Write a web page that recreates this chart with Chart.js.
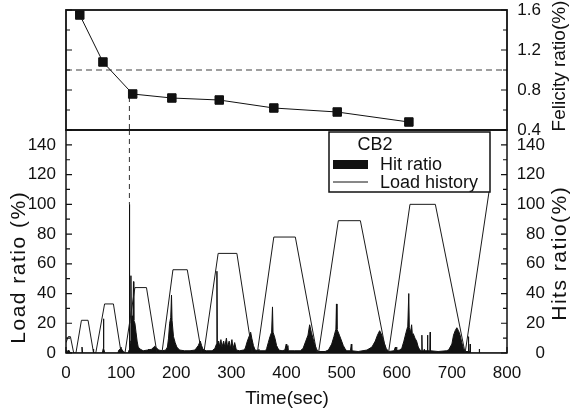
<!DOCTYPE html>
<html>
<head>
<meta charset="utf-8">
<title>CB2 load history and hit ratio</title>
<script src="https://cdn.jsdelivr.net/npm/chart.js@4.4.1/dist/chart.umd.min.js"></script>
<style>
    html, body { margin: 0; padding: 0; background: #fff; }
    #wrap { position: relative; width: 572px; height: 415px; }
    #wrap canvas { position: absolute; left: 0; top: 0; }
</style>
</head>
<body>
<div id="wrap">
    <canvas id="felicityChart" width="572" height="415"></canvas>
    <canvas id="loadChart" width="572" height="415"></canvas>
</div>
<script>
/**
 * Felicity ratio (top panel) and load history / hit ratio of CB2 (bottom panel)
 */

// Felicity ratio measured at each load step
const felicityTime  = [25, 67, 121, 192, 278, 377, 492, 622];
const felicityRatio = [1.55, 1.08, 0.76, 0.72, 0.70, 0.62, 0.58, 0.48];
const felicityLimit = 1.0;

// Moment the felicity ratio first falls under the limit
const splitTime = 115;

// Offered load (%): ramps and plateaus
const loadTime  = [0, 4, 8, 14, 18, 28, 40, 50, 54, 70, 86, 100, 107, 125, 146, 165,
                   174, 194, 220, 246, 250, 276, 310, 338, 347, 377, 416, 455,
                   458, 494, 534, 581, 585, 624, 670, 724, 768];
const loadRatio = [7, 11, 11, 0, 0, 22, 22, 0, 0, 33, 33, 0, 0, 44, 44, 0,
                   0, 56, 56, 0, 0, 67, 67, 0, 0, 78, 78, 0,
                   0, 89, 89, 0, 0, 100, 100, 0, 110];

// Hit ratio (%) samples, burst by burst
const hitTime = [
    0, 1, 3, 5, 7, 12, 28, 29, 30, 32, 66, 67.5, 68, 68.6, 70, 72, 94, 96, 100, 104, 108,
    113, 114.4, 115, 115.6, 117, 117.8, 118.4, 120, 121.2, 122.4, 123, 125, 127, 129, 131, 135, 140,
    148, 155, 158, 161, 164, 168, 175,
    181, 184, 186, 188, 190, 191.4, 192.4, 195, 198, 201, 206, 215, 225,
    234, 240, 243.5, 246, 249, 255, 265,
    270, 273, 273.8, 274.6, 277, 279, 281, 283, 286, 288, 291, 293, 296, 298, 301, 303, 306, 309, 315,
    322, 325, 329, 333, 335, 337, 340, 343, 350,
    362, 364, 367, 370, 373, 374.6, 375.6, 379, 382, 386, 392,
    397, 399.6, 400.4, 402.6, 403.4, 415, 425,
    430, 435, 439, 442, 445, 448, 451, 454, 457, 470,
    476, 482, 486, 489.6, 490.6, 491.6, 496, 500, 503, 506, 509, 516, 517.6, 518.4, 530,
    546, 555, 561, 565, 569, 573, 577, 581, 585, 595,
    597.6, 598.4, 605, 609, 613, 617, 620, 621.8, 622.8, 625, 627, 628.4, 630, 633, 636, 639, 642,
    645, 645.6, 646.2, 655.2, 655.8, 656.4, 660, 660.6, 661.2, 675, 690,
    694, 700, 703, 706, 709, 712, 715, 718, 721, 724,
    729.4, 730, 730.6, 732.6, 733.2, 733.8, 800
];
const hitRatio = [
    0, 2, 1, 2, 0.5, 0, 0, 4, 0.5, 0, 0, 3, 23, 3, 0.5, 0, 0, 2, 3, 1, 0,
    0, 2, 100, 4, 8, 52, 20, 25, 18, 48, 22, 20, 14, 8, 4, 2.5, 1.5,
    2, 2.5, 3.5, 4.5, 3.5, 2, 1.5,
    2, 4, 10, 20, 24, 39, 22, 11, 7, 4, 2, 1.5, 1.5,
    2, 5, 8, 5, 2, 1.5, 1.5,
    3, 6, 55, 6, 8, 4, 9, 4, 8, 4, 10, 4, 8, 3, 9, 3, 7, 2, 1.5,
    2, 3, 8, 12, 14, 10, 5, 2, 1.5,
    1.5, 3, 7, 11, 14, 31, 14, 10, 5, 2, 1.5,
    2, 6, 1.5, 5, 1.5, 1.5, 1.5,
    3, 8, 12, 19, 14, 10, 6, 3, 1, 1,
    2, 6, 11, 16, 33, 16, 12, 8, 5, 3, 1.5, 1.5, 6, 1.5, 1,
    2, 4, 8, 12, 15, 12, 7, 3, 1, 1.5,
    4, 1.5, 2, 3, 8, 14, 18, 40, 17, 14, 19, 12, 13, 10, 8, 4, 2,
    1.5, 12, 1.5, 1.5, 12, 1.5, 1.5, 14, 1.5, 1, 1.5,
    2, 6, 12, 15, 17, 15, 12, 7, 3, 1,
    1, 11, 1, 1, 6, 0, 0
];

// Axis texts
const loadTitle     = 'Load ratio (%)';
const hitsTitle     = 'Hits ratio(%)';
const felicityTitle = 'Felicity ratio(%)';
const timeTitle     = 'Time(sec)';

const FONT = '"Liberation Sans", Arial, Helvetica, sans-serif';
const INK  = '#111';

Chart.defaults.font.family = FONT;
Chart.defaults.color = INK;

let _chartFelicity = null;
let _chartLoad     = null;

function _points(xs, ys) {
    return xs.map((x, i) => ({ x, y: ys[i] }));
}

// Fixed axis box, no extra room for overflowing labels
function _fixBox(size) {
    return s => {
        if (s.isHorizontal()) s.height = size; else s.width = size;
        s.paddingTop = 0;
        s.paddingBottom = 0;
        s.paddingLeft = 0;
        s.paddingRight = 0;
    };
}

// Short tick marks pointing into the plot area
function _drawInnerTicks(chart, axisId, side, minorStep, majorStep) {
    const scale = chart.scales[axisId];
    const area = chart.chartArea;
    const ctx = chart.ctx;
    const count = Math.round((scale.max - scale.min) / minorStep);

    ctx.save();
    ctx.strokeStyle = INK;
    ctx.lineWidth = 1.2;
    ctx.beginPath();
    for (let i = 0; i <= count; i++) {
        const v = scale.min + i * minorStep;
        const r = v / majorStep;
        const len = Math.abs(r - Math.round(r)) < 1e-6 ? 6 : 4;
        const p = scale.getPixelForValue(v);
        if (side === 'left') {
            ctx.moveTo(area.left, p);
            ctx.lineTo(area.left + len, p);
        } else if (side === 'right') {
            ctx.moveTo(area.right, p);
            ctx.lineTo(area.right - len, p);
        } else {
            ctx.moveTo(p, area.bottom);
            ctx.lineTo(p, area.bottom - len);
        }
    }
    ctx.stroke();
    ctx.restore();
}

function _drawFrame(chart, width) {
    const a = chart.chartArea;
    const ctx = chart.ctx;
    ctx.save();
    ctx.strokeStyle = INK;
    ctx.lineWidth = width;
    ctx.strokeRect(a.left, a.top, a.right - a.left, a.bottom - a.top);
    ctx.restore();
}

function _drawVerticalText(ctx, text, x, y, size, spacing) {
    ctx.save();
    ctx.translate(x, y);
    ctx.rotate(-Math.PI / 2);
    ctx.font = size + 'px ' + FONT;
    ctx.letterSpacing = spacing + 'px';
    ctx.textAlign = 'center';
    ctx.textBaseline = 'middle';
    ctx.fillText(text, spacing / 2, 0);
    ctx.restore();
}

const felicityFrame = {
    id: 'felicityFrame',
    afterDatasetsDraw(chart) {
        _drawFrame(chart, 1.8);
        _drawInnerTicks(chart, 'yFel', 'left', 0.2, 0.4);
        _drawInnerTicks(chart, 'yFel', 'right', 0.2, 0.4);
    }
};

const loadFrame = {
    id: 'loadFrame',
    afterDatasetsDraw(chart) {
        _drawFrame(chart, 1.5);
        _drawInnerTicks(chart, 'yLoad', 'left', 10, 20);
        _drawInnerTicks(chart, 'yHits', 'right', 10, 20);
        _drawInnerTicks(chart, 'x', 'bottom', 50, 100);
    }
};

// Boxed legend in the upper right corner of the bottom panel
const cbLegend = {
    id: 'cbLegend',
    afterDatasetsDraw(chart) {
        const a = chart.chartArea;
        const ctx = chart.ctx;
        const left = a.left + 263, top = a.top + 2;
        const w = 161, h = 60;

        ctx.save();
        ctx.fillStyle = '#fff';
        ctx.fillRect(left, top, w, h);
        ctx.strokeStyle = INK;
        ctx.lineWidth = 1.5;
        ctx.strokeRect(left, top, w, h);

        ctx.fillStyle = INK;
        ctx.font = '18px ' + FONT;
        ctx.textBaseline = 'middle';
        ctx.textAlign = 'center';
        ctx.fillText('CB2', left + 46, top + 13);

        ctx.textAlign = 'left';
        ctx.fillRect(left + 4, top + 28, 35, 9);
        ctx.fillText('Hit ratio', left + 51, top + 33);

        ctx.lineWidth = 1;
        ctx.beginPath();
        ctx.moveTo(left + 4, top + 50);
        ctx.lineTo(left + 39, top + 50);
        ctx.stroke();
        ctx.fillText('Load history', left + 51, top + 51);
        ctx.restore();
    }
};

const axisTitles = {
    id: 'axisTitles',
    afterDraw(chart) {
        const ctx = chart.ctx;
        ctx.save();
        ctx.fillStyle = INK;
        _drawVerticalText(ctx, loadTitle, 19, 268, 21, 1.5);
        _drawVerticalText(ctx, hitsTitle, 560, 254, 21, 1.5);
        _drawVerticalText(ctx, felicityTitle, 560, 66, 19, 0);
        ctx.font = '19px ' + FONT;
        ctx.textAlign = 'center';
        ctx.textBaseline = 'middle';
        ctx.fillText(timeTitle, 287, 399);
        ctx.restore();
    }
};

function _renderFelicity() {
    const ctx = document.getElementById('felicityChart');
    if (_chartFelicity) _chartFelicity.destroy();

    _chartFelicity = new Chart(ctx, {
        type: 'line',
        data: {
            datasets: [
                {
                    label: 'Felicity ratio',
                    data: _points(felicityTime, felicityRatio),
                    yAxisID: 'yFel',
                    borderColor: INK,
                    borderWidth: 1,
                    pointStyle: 'rect',
                    pointRadius: 6,
                    pointBackgroundColor: INK,
                    pointBorderColor: INK,
                    tension: 0
                },
                {
                    label: 'Limit',
                    data: _points([0, 800], [felicityLimit, felicityLimit]),
                    yAxisID: 'yFel',
                    borderColor: '#808080',
                    borderWidth: 1.5,
                    borderDash: [6, 4],
                    pointRadius: 0
                },
                {
                    label: 'Split',
                    data: _points([splitTime, splitTime], [0.73, 0.4]),
                    yAxisID: 'yFel',
                    borderColor: '#333',
                    borderWidth: 1,
                    borderDash: [5, 4],
                    pointRadius: 0
                }
            ]
        },
        options: {
            responsive: false,
            animation: false,
            layout: { padding: { top: 10, bottom: 285, left: 66, right: 31 } },
            plugins: { legend: { display: false }, tooltip: { enabled: false } },
            scales: {
                x: { type: 'linear', min: 0, max: 800, display: false },
                yFel: {
                    type: 'linear',
                    position: 'right',
                    min: 0.4,
                    max: 1.6,
                    ticks: {
                        stepSize: 0.4,
                        includeBounds: false,
                        padding: 8,
                        crossAlign: 'far',
                        font: { size: 17 },
                        callback: v => v.toFixed(1)
                    },
                    grid: { display: false, drawTicks: false },
                    border: { display: false },
                    afterFit: _fixBox(34)
                }
            }
        },
        plugins: [felicityFrame]
    });
}

function _renderLoad() {
    const ctx = document.getElementById('loadChart');
    if (_chartLoad) _chartLoad.destroy();

    const ratioAxis = (position, width) => ({
        type: 'linear',
        position,
        min: 0,
        max: 150,
        ticks: {
            stepSize: 20,
            includeBounds: false,
            padding: 10,
            crossAlign: position === 'right' ? 'far' : 'near',
            font: { size: 17 }
        },
        grid: { display: false, drawTicks: false },
        border: { display: false },
        afterFit: _fixBox(width)
    });

    _chartLoad = new Chart(ctx, {
        type: 'line',
        data: {
            datasets: [
                {
                    label: 'Load history',
                    data: _points(loadTime, loadRatio),
                    yAxisID: 'yLoad',
                    borderColor: '#1a1a1a',
                    borderWidth: 1,
                    pointRadius: 0,
                    tension: 0,
                    fill: false
                },
                {
                    label: 'Split',
                    data: _points([splitTime, splitTime], [150, 100]),
                    yAxisID: 'yLoad',
                    borderColor: '#333',
                    borderWidth: 1,
                    borderDash: [5, 4],
                    pointRadius: 0
                },
                {
                    label: 'Hit ratio',
                    data: _points(hitTime, hitRatio),
                    yAxisID: 'yHits',
                    borderColor: INK,
                    backgroundColor: INK,
                    borderWidth: 1,
                    pointRadius: 0,
                    tension: 0,
                    fill: 'origin'
                }
            ]
        },
        options: {
            responsive: false,
            animation: false,
            layout: { padding: { top: 130, bottom: 0, left: 0, right: 27 } },
            plugins: { legend: { display: false }, tooltip: { enabled: false } },
            scales: {
                x: {
                    type: 'linear',
                    min: 0,
                    max: 800,
                    ticks: { stepSize: 100, padding: 10, font: { size: 17 } },
                    grid: { display: false, drawTicks: false },
                    border: { display: false },
                    afterFit: _fixBox(62)
                },
                yLoad: ratioAxis('left', 66),
                yHits: ratioAxis('right', 38)
            }
        },
        plugins: [loadFrame, cbLegend, axisTitles]
    });
}

_renderFelicity();
_renderLoad();
</script>
</body>
</html>
